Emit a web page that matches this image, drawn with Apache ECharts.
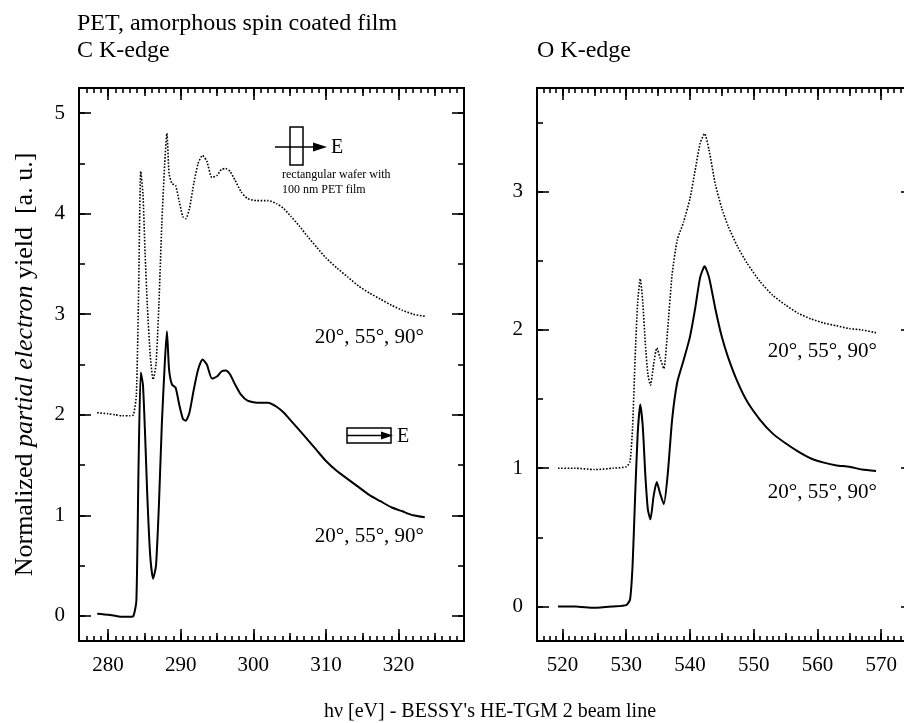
<!DOCTYPE html>
<html>
<head>
<meta charset="utf-8">
<script src="https://cdn.jsdelivr.net/npm/echarts@6/dist/echarts.min.js"></script>
<style>html,body{margin:0;padding:0;background:#fff;}#c{width:904px;height:723px;}</style>
</head>
<body>
<div id="c"></div>
<script>
// ---------- DATA ----------
// C K-edge (left panel)
var cEnergy = [278.5, 280, 281, 282, 283, 283.5, 283.9, 284.2, 284.5, 284.8, 285.1, 285.4, 285.8, 286.2, 286.6, 287.0, 287.4, 287.8, 288.1, 288.4, 288.8, 289.3, 289.8, 290.3, 290.7, 291.2, 291.8, 292.4, 293.0, 293.6, 294.3, 295.0, 295.6, 296.2, 296.8, 297.5, 298.3, 299.2, 300.5, 302.0, 303.2, 304.2, 305.2, 306.3, 307.5, 308.8, 310.0, 311.5, 313.0, 314.5, 316.0, 317.5, 319.0, 320.5, 322.0, 323.6];
var cLower = [0.02, 0.01, 0.0, -0.01, -0.01, 0.0, 0.15, 1.5, 2.42, 2.3, 1.8, 1.2, 0.6, 0.37, 0.5, 1.1, 1.9, 2.5, 2.83, 2.45, 2.3, 2.27, 2.1, 1.96, 1.94, 2.02, 2.25, 2.45, 2.55, 2.5, 2.36, 2.38, 2.43, 2.44, 2.4, 2.3, 2.2, 2.14, 2.12, 2.12, 2.08, 2.02, 1.94, 1.85, 1.75, 1.64, 1.54, 1.44, 1.36, 1.28, 1.2, 1.14, 1.08, 1.04, 1.0, 0.98];
var cUpper = [2.02, 2.01, 2.0, 1.99, 1.99, 2.0, 2.2, 3.2, 4.42, 4.2, 3.6, 3.1, 2.6, 2.35, 2.5, 3.1, 3.9, 4.5, 4.8, 4.4, 4.3, 4.28, 4.12, 3.97, 3.95, 4.05, 4.3, 4.5, 4.58, 4.52, 4.36, 4.38, 4.44, 4.45, 4.42, 4.33, 4.22, 4.15, 4.13, 4.13, 4.1, 4.05, 3.97, 3.88, 3.77, 3.66, 3.56, 3.46, 3.37, 3.28, 3.21, 3.15, 3.09, 3.04, 3.0, 2.98];
// O K-edge (right panel)
var oEnergy = [519.3, 522, 525, 528, 530, 530.6, 531.0, 531.4, 531.8, 532.2, 532.6, 533.0, 533.4, 533.8, 534.3, 534.8, 535.3, 535.9, 536.5, 537.2, 538.0, 539.0, 540.0, 540.8, 541.6, 542.3, 543.0, 544.0, 545.0, 546.0, 547.5, 549, 551, 553, 555, 557, 559, 561, 563, 565, 567, 569.2];
var oLower = [0.0, 0.0, -0.01, 0.0, 0.01, 0.05, 0.3, 0.8, 1.25, 1.46, 1.3, 0.95, 0.7, 0.63, 0.8, 0.9, 0.82, 0.74, 0.95, 1.35, 1.62, 1.78, 1.95, 2.15, 2.38, 2.46, 2.38, 2.15, 1.95, 1.8, 1.62, 1.48, 1.35, 1.25, 1.18, 1.12, 1.07, 1.04, 1.02, 1.01, 0.99, 0.98];
var oUpper = [1.0, 1.0, 0.99, 1.0, 1.01, 1.05, 1.3, 1.8, 2.2, 2.37, 2.2, 1.9, 1.68, 1.6, 1.75, 1.87, 1.8, 1.72, 2.0, 2.4, 2.65, 2.78, 2.95, 3.15, 3.35, 3.42, 3.3, 3.05, 2.88, 2.75, 2.6, 2.48, 2.35, 2.25, 2.18, 2.12, 2.08, 2.05, 2.03, 2.01, 2.0, 1.98];
// tick labels
var cXLabels = ['280', '290', '300', '310', '320'];
var oXLabels = ['520', '530', '540', '550', '560', '570'];
var cYLabels = ['0', '1', '2', '3', '4', '5'];
var oYLabels = ['0', '1', '2', '3'];
var angleLabel = '20°, 55°, 90°';
// axis ranges
var cXRange = [276, 329], oXRange = [516, 575];
var cYRange = [-0.25, 5.25], oYRange = [-0.25, 3.75];

// ---------- helpers ----------
var FONT = 'Liberation Serif';
function steps(a, b, s) { var r = []; for (var v = a; v <= b + 1e-9; v += s) r.push(String(Math.round(v * 100) / 100)); return r; }
function tickAxis(grid, pos, cats, test, len, labels) {
  return {
    type: 'category', gridIndex: grid, position: pos, data: cats, boundaryGap: false,
    axisLine: { show: false },
    axisTick: { show: true, inside: true, length: len, interval: function (i, v) { return test(i, v); }, lineStyle: { color: '#000', width: 1.6 } },
    axisLabel: { show: !!labels, interval: function (i, v) { return labels ? labels.indexOf(v) >= 0 : false; }, margin: 14, color: '#000', fontFamily: FONT, fontSize: 21 },
    splitLine: { show: false }, axisPointer: { show: false }
  };
}
function isMul(v, m) { var q = parseFloat(v) / m; return Math.abs(q - Math.round(q)) < 1e-6; }

var cXc = steps(cXRange[0], cXRange[1], 1), oXc = steps(oXRange[0], oXRange[1], 1);
var cYc = steps(cYRange[0], cYRange[1], 0.25), oYc = steps(oYRange[0], oYRange[1], 0.25);

var xAxes = [], yAxes = [];
xAxes.push({ type: 'value', gridIndex: 0, min: cXRange[0], max: cXRange[1], show: false });
xAxes.push({ type: 'value', gridIndex: 1, min: oXRange[0], max: oXRange[1], show: false });
yAxes.push({ type: 'value', gridIndex: 0, min: cYRange[0], max: cYRange[1], show: false });
yAxes.push({ type: 'value', gridIndex: 1, min: oYRange[0], max: oYRange[1], show: false });
[[0, cXc, cXLabels], [1, oXc, oXLabels]].forEach(function (g) {
  ['bottom', 'top'].forEach(function (p) {
    xAxes.push(tickAxis(g[0], p, g[1], function () { return true; }, 5));
    xAxes.push(tickAxis(g[0], p, g[1], function (i, v) { return isMul(v, 5); }, 8));
    xAxes.push(tickAxis(g[0], p, g[1], function (i, v) { return isMul(v, 10); }, 12, p === 'bottom' ? g[2] : null));
  });
});
[[0, cYc, cYLabels], [1, oYc, oYLabels]].forEach(function (g) {
  ['left', 'right'].forEach(function (p) {
    yAxes.push(tickAxis(g[0], p, g[1], function (i, v) { return isMul(v, 0.5); }, 6));
    var a = tickAxis(g[0], p, g[1], function (i, v) { return isMul(v, 1); }, 12, p === 'left' ? g[2] : null);
    if (g[0] === 0 && p === 'left') {
      a.name = 'Normalized {i|partial electron} yield  [a. u.]';
      a.nameLocation = 'middle'; a.nameRotate = 90; a.nameGap = 41;
      a.nameTextStyle = { color: '#000', fontFamily: FONT, fontSize: 26, rich: { i: { fontStyle: 'italic', fontFamily: FONT, fontSize: 26, color: '#000' } } };
    }
    yAxes.push(a);
  });
});

function pairs(xs, ys) { return xs.map(function (x, i) { return [x, ys[i]]; }); }
var solid = { color: '#000', width: 2 };
var dotted = { color: '#000', width: 1.6, type: [1.6, 1.6] };

var option = {
  animation: false,
  backgroundColor: '#fff',
  grid: [
    { left: 79, top: 88, width: 385, height: 553, outerBoundsMode: 'none', containLabel: false, show: true, borderColor: '#000', borderWidth: 2, backgroundColor: 'transparent' },
    { left: 537, top: 88, width: 376, height: 553, outerBoundsMode: 'none', containLabel: false, show: true, borderColor: '#000', borderWidth: 2, backgroundColor: 'transparent' }
  ],
  xAxis: xAxes,
  yAxis: yAxes,
  series: [
    { type: 'line', xAxisIndex: 0, yAxisIndex: 0, data: pairs(cEnergy, cLower), showSymbol: false, smooth: 0.2, lineStyle: solid },
    { type: 'line', xAxisIndex: 0, yAxisIndex: 0, data: pairs(cEnergy, cUpper), showSymbol: false, smooth: 0.2, lineStyle: dotted },
    { type: 'line', xAxisIndex: 1, yAxisIndex: 1, data: pairs(oEnergy, oLower), showSymbol: false, smooth: 0.2, lineStyle: solid },
    { type: 'line', xAxisIndex: 1, yAxisIndex: 1, data: pairs(oEnergy, oUpper), showSymbol: false, smooth: 0.2, lineStyle: dotted }
  ],
  graphic: [
    { type: 'text', left: 77, top: 12, style: { text: 'PET, amorphous spin coated film', fill: '#000', font: '24px "Liberation Serif"' } },
    { type: 'text', left: 77, top: 39, style: { text: 'C K-edge', fill: '#000', font: '24px "Liberation Serif"' } },
    { type: 'text', left: 537, top: 39, style: { text: 'O K-edge', fill: '#000', font: '24px "Liberation Serif"' } },
    { type: 'text', x: 490, y: 712, style: { text: "hν [eV] - BESSY's HE-TGM 2 beam line", fill: '#000', font: '20px "Liberation Serif"', align: 'center', verticalAlign: 'middle' } },
    { type: 'text', x: 424, y: 337, style: { text: angleLabel, fill: '#000', font: '21px "Liberation Serif"', align: 'right', verticalAlign: 'middle' } },
    { type: 'text', x: 424, y: 536, style: { text: angleLabel, fill: '#000', font: '21px "Liberation Serif"', align: 'right', verticalAlign: 'middle' } },
    { type: 'text', x: 877, y: 351, style: { text: angleLabel, fill: '#000', font: '21px "Liberation Serif"', align: 'right', verticalAlign: 'middle' } },
    { type: 'text', x: 877, y: 492, style: { text: angleLabel, fill: '#000', font: '21px "Liberation Serif"', align: 'right', verticalAlign: 'middle' } },
    { type: 'rect', shape: { x: 290, y: 127, width: 13, height: 38 }, style: { fill: 'none', stroke: '#000', lineWidth: 1.5 } },
    { type: 'line', shape: { x1: 275, y1: 147, x2: 316, y2: 147 }, style: { stroke: '#000', lineWidth: 1.5 } },
    { type: 'polygon', shape: { points: [[313, 142.5], [327, 147], [313, 151.5]] }, style: { fill: '#000' } },
    { type: 'text', x: 331, y: 148, style: { text: 'E', fill: '#000', font: '20px "Liberation Serif"', verticalAlign: 'middle' } },
    { type: 'text', x: 282, y: 175, style: { text: 'rectangular wafer with', fill: '#000', font: '12px "Liberation Serif"', verticalAlign: 'middle' } },
    { type: 'text', x: 282, y: 190, style: { text: '100 nm PET film', fill: '#000', font: '12px "Liberation Serif"', verticalAlign: 'middle' } },
    { type: 'rect', shape: { x: 347, y: 428, width: 44, height: 15 }, style: { fill: 'none', stroke: '#000', lineWidth: 1.5 } },
    { type: 'line', shape: { x1: 347, y1: 435.5, x2: 384, y2: 435.5 }, style: { stroke: '#000', lineWidth: 1.5 } },
    { type: 'polygon', shape: { points: [[381, 431.5], [393, 435.5], [381, 439.5]] }, style: { fill: '#000' } },
    { type: 'text', x: 397, y: 437, style: { text: 'E', fill: '#000', font: '20px "Liberation Serif"', verticalAlign: 'middle' } }
  ]
};
var chart = echarts.init(document.getElementById('c'), null, { renderer: 'canvas' });
chart.setOption(option);
</script>
</body>
</html>
